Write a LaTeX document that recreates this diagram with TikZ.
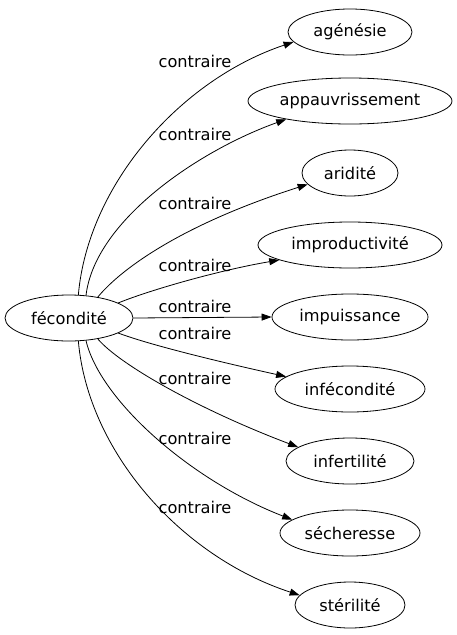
\documentclass[tikz,border=0pt]{standalone}
\usepackage{fontspec}
\setmainfont{DejaVu Sans}
\usetikzlibrary{shapes.geometric,arrows.meta}
\begin{document}
\begin{tikzpicture}[x=1pt,y=-1pt,
  ell/.style={draw,ellipse,line width=0.8pt,inner sep=0pt,minimum height=46pt,
    font=\fontsize{16.2}{19}\selectfont},
  lab/.style={font=\fontsize{16.2}{19}\selectfont,inner sep=0pt},
  edge/.style={draw,line width=0.8pt,-{Triangle[length=10pt,width=7pt]}}]
\useasboundingbox (0,0) rectangle (456,635);
\node[ell,minimum width=128pt] (src) at (69,318) {fécondité};
\node[ell,minimum width=124pt] (t1) at (350,32) {agénésie};
\node[ell,minimum width=204pt] (t2) at (350,101) {appauvrissement};
\node[ell,minimum width=96pt] (t3) at (350,173) {aridité};
\node[ell,minimum width=184pt] (t4) at (350,245) {improductivité};
\node[ell,minimum width=156pt] (t5) at (350,317) {impuissance};
\node[ell,minimum width=150pt] (t6) at (350,389) {infécondité};
\node[ell,minimum width=128pt] (t7) at (350,461) {infertilité};
\node[ell,minimum width=140pt] (t8) at (350,533) {sécheresse};
\node[ell,minimum width=110pt] (t9) at (350,605) {stérilité};
\path[edge] (src.68) .. controls (88,185) and (180,80) .. (t1.190);
\path[edge] (src.53) .. controls (95,220) and (200,150) .. (t2.196);
\path[edge] (src.36) .. controls (120,270) and (180,225) .. (t3.195);
\path[edge] (src.17) .. controls (150,290) and (220,270) .. (t4.192);
\path[edge] (src.0) -- (t5.180);
\path[edge] (src.-17) .. controls (150,345) and (220,362) .. (t6.169);
\path[edge] (src.-36) .. controls (120,365) and (200,410) .. (t7.165);
\path[edge] (src.-53) .. controls (100,400) and (190,480) .. (t8.167);
\path[edge] (src.-68) .. controls (88,451) and (180,556) .. (t9.169);
\node[lab] (l1) at (195,61) {contraire};
\node[lab] (l2) at (195,134) {contraire};
\node[lab] (l3) at (195,203) {contraire};
\node[lab] (l4) at (195,265) {contraire};
\node[lab] (l5) at (195,306) {contraire};
\node[lab] (l6) at (195,333) {contraire};
\node[lab] (l7) at (195,378) {contraire};
\node[lab] (l8) at (195,438) {contraire};
\node[lab] (l9) at (195,507) {contraire};
\end{tikzpicture}
\end{document}
